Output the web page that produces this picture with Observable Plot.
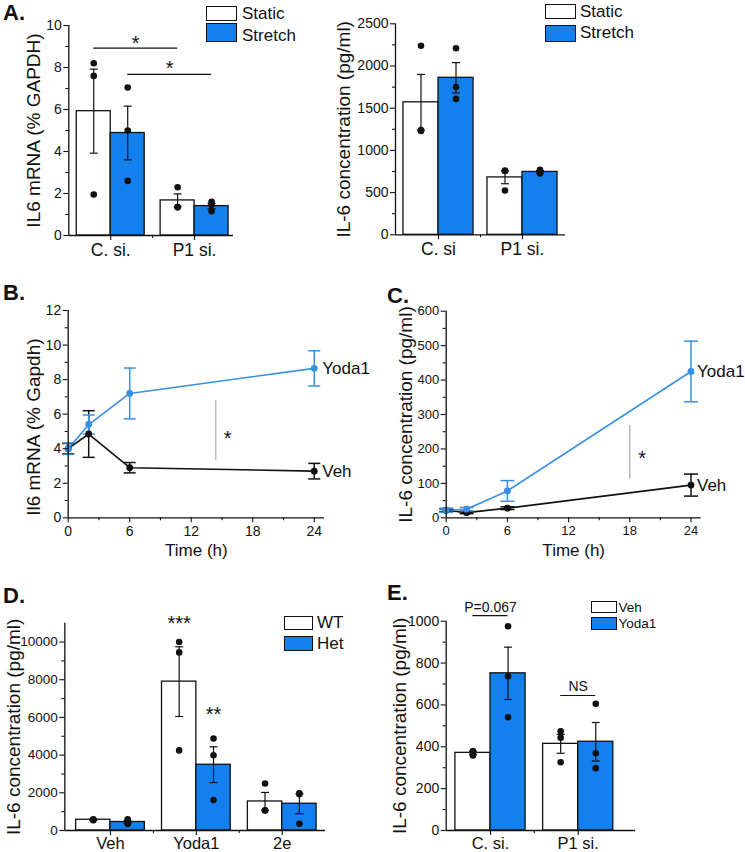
<!DOCTYPE html>
<html><head><meta charset="utf-8">
<script src="https://cdn.jsdelivr.net/npm/d3@7"></script>
<script src="https://cdn.jsdelivr.net/npm/@observablehq/plot@0.6"></script>
<style>
html,body{margin:0;padding:0;background:#fff;}
#fig{position:relative;width:745px;height:852px;overflow:hidden;font-family:'Liberation Sans',Arial,Helvetica,sans-serif;color:#111;background:#fff;}
#fig svg{position:absolute;overflow:visible;}
.lbl{position:absolute;white-space:nowrap;line-height:1;}
.box{position:absolute;box-sizing:border-box;border:1.3px solid #111;}
</style></head><body><div id="fig"></div>
<script>
// ---------------- DATA ----------------
// Panel A (left): IL6 mRNA
const aCats = ["C. si.", "P1 si."];
const aGroups = ["Static", "Stretch"];
const aMrnaStatic = [5.92, 1.67];
const aMrnaStaticSem = [2.0, 0.31];
const aMrnaStretch = [4.88, 1.40];
const aMrnaStretchSem = [1.28, 0.13];
const aMrnaStaticPts = [[8.2, 7.6, 1.95], [2.3, 1.35, 1.35]];
const aMrnaStretchPts = [[7.05, 5.0, 2.6], [1.6, 1.45, 1.15]];
const aMrnaTicks = [0, 2, 4, 6, 8, 10];
const aMrnaMinor = [1, 3, 5, 7, 9];

// Panel A (right): IL-6 concentration
const aProtCats = ["C. si", "P1 si."];
const aProtStatic = [1570, 680];
const aProtStaticSem = [330, 75];
const aProtStretch = [1860, 745];
const aProtStretchSem = [180, 15];
const aProtStaticPts = [[2240, 1240, 1230], [760, 755, 525]];
const aProtStretchPts = [[2210, 1750, 1610], [770, 745, 725]];
const aProtTicks = [0, 500, 1000, 1500, 2000, 2500];
const aProtMinor = [250, 750, 1250, 1750, 2250];

// Panel B: Il6 mRNA time course
const bTimes = [0, 2, 6, 24];
const bYoda = [4.0, 5.4, 7.2, 8.65];
const bYodaSem = [0.33, 0.55, 1.47, 1.02];
const bVeh = [4.0, 4.85, 2.9, 2.7];
const bVehSem = [0.3, 1.35, 0.3, 0.45];
const bTicks = [0, 2, 4, 6, 8, 10, 12];
const bMinor = [1, 3, 5, 7, 9, 11];

// Panel C: IL-6 concentration time course
const cTimes = [0, 2, 6, 24];
const cYoda = [22, 25, 78, 425];
const cYodaSem = [6, 5, 30, 88];
const cVeh = [22, 15, 28, 95];
const cVehSem = [4, 3, 4, 32];
const cTicks = [0, 100, 200, 300, 400, 500, 600];
const cMinor = [50, 150, 250, 350, 450, 550];
const timeTicks = [0, 6, 12, 18, 24];
const timeMinor = [3, 9, 15, 21];

// Panel D
const dCats = ["Veh", "Yoda1", "2e"];
const dGroups = ["WT", "Het"];
const dWT = [570, 7900, 1540];
const dWTSem = [40, 1850, 480];
const dHet = [450, 3490, 1420];
const dHetSem = [70, 950, 530];
const dWTPts = [[600, 560, 550], [10000, 9450, 4250], [2490, 1060, 1070]];
const dHetPts = [[600, 400, 350], [4880, 3990, 1620], [1975, 1930, 355]];
const dTicks = [0, 2000, 4000, 6000, 8000, 10000];
const dMinor = [1000, 3000, 5000, 7000, 9000];

// Panel E
const eCats = ["C. si.", "P1 si."];
const eGroups = ["Veh", "Yoda1"];
const eVeh = [371, 414];
const eVehSem = [8, 45];
const eYoda = [751, 424];
const eYodaSem = [125, 92];
const eVehPts = [[380, 365, 358], [474, 443, 326]];
const eYodaPts = [[976, 737, 541], [605, 369, 298]];
const eTicks = [0, 200, 400, 600, 800, 1000];
const eMinor = [100, 300, 500, 700, 900];

// annotations
const aBrackets = [{c1: 0, g1: 0, c2: 1, g2: 0, y: 8.92, label: "*", ly: 9.38},
                   {c1: 0, g1: 1, c2: 1, g2: 1, y: 7.67, label: "*", ly: 8.19}];
const dStars = [{c: 1, g: 0, y: 11241, label: "***"}, {c: 1, g: 1, y: 6393, label: "**"}];
const eBrackets = [{c1: 0, g1: 0, c2: 0, g2: 1, y: 1027, label: "P=0.067", ly: 1067},
                   {c1: 1, g1: 0, c2: 1, g2: 1, y: 645, label: "NS", ly: 688}];
const bSig = {t: 14.4, y1: 3.32, y2: 6.79, starT: 15.55, starY: 4.88};
const cSig = {t: 18, y1: 113, y2: 268, starT: 19.2, starY: 186};

// ---------------- STYLE ----------------
const INK = "#111";
const BLUE = "#1380ee";
const LINEBLUE = "#3690e3";
const FONT = "'Liberation Sans', Arial, Helvetica, sans-serif";
const fig = document.getElementById("fig");
const plain = d3.format("d");

const capSymbol = hw => ({draw(ctx) { ctx.moveTo(-hw, 0); ctx.lineTo(hw, 0); }});

function place(svg, box) {
  svg.style.left = box.left + "px";
  svg.style.top = box.top + "px";
  svg.style.overflow = "visible";
  fig.appendChild(svg);
}

function baseOptions(box, frame, xDomain, yDomain) {
  return {
    width: box.width, height: box.height,
    marginLeft: frame.x0 - box.left, marginRight: box.left + box.width - frame.x1,
    marginTop: frame.y0 - box.top, marginBottom: box.top + box.height - frame.y1,
    x: {domain: xDomain, label: null}, y: {domain: yDomain, label: null},
    color: {type: "identity"},
    style: {fontFamily: FONT, fontSize: "13px", color: INK, background: "none", overflow: "visible", maxWidth: "none"}
  };
}

function yAxes(p) {
  return [
    Plot.axisY({ticks: p.yTicks, tickFormat: plain, tickSize: 5, tickPadding: 2, fontSize: p.tickFont, label: null, strokeWidth: 1.1}),
    Plot.axisY({ticks: p.yMinor, tickSize: 3, tickFormat: () => "", label: null, strokeWidth: 1.1}),
    Plot.text([p.title], {text: d => d, frameAnchor: "left", textAnchor: "middle", lineAnchor: "middle", rotate: -90, dx: p.tdx, dy: p.tdy || 0, fontSize: 19, fill: INK})
  ];
}

function barPanel(p) {
  const rows = [], pts = [];
  p.cats.forEach((c, ci) => p.groups.forEach((g, gi) => {
    rows.push({ci, gi, mean: p.means[gi][ci], sem: p.sems[gi][ci], fill: p.fills[gi]});
    p.pts[gi][ci].forEach(v => pts.push({ci, gi, v}));
  }));
  const W = p.barW;
  const xc = d => d.ci + (d.gi - 0.5) * W;
  const xAt = (c, g) => c + (g - 0.5) * W;
  const cap = capSymbol(4);
  const minorX = d3.range(p.cats.length - 1).map(i => i + 0.5);
  const marks = [
    Plot.rect(rows, {x1: d => d.ci + (d.gi - 1) * W, x2: d => d.ci + d.gi * W, y1: 0, y2: "mean", fill: "fill", stroke: INK, strokeWidth: 1.3}),
    Plot.ruleX(rows, {x: xc, y1: d => d.mean - d.sem, y2: d => d.mean + d.sem, stroke: INK, strokeWidth: 1.2}),
    Plot.dot(rows, {x: xc, y: d => d.mean + d.sem, symbol: cap, stroke: INK, fill: "none", strokeWidth: 1.2}),
    Plot.dot(rows, {x: xc, y: d => d.mean - d.sem, symbol: cap, stroke: INK, fill: "none", strokeWidth: 1.2}),
    Plot.dot(pts, {x: xc, y: "v", r: 3.3, fill: INK, stroke: "none"}),
    Plot.ruleX([p.xDomain[0]], {stroke: INK, strokeWidth: 1.3}),
    Plot.ruleY([0], {stroke: INK, strokeWidth: 1.3}),
    ...yAxes(p),
    Plot.axisX({ticks: p.cats.map((_, i) => i), tickFormat: i => p.cats[i], tickSize: 5, tickPadding: p.catPad, fontSize: p.catFont, label: null, strokeWidth: 1.1}),
    Plot.axisX({ticks: minorX, tickSize: 3, tickFormat: () => "", label: null, strokeWidth: 1.1})
  ];
  (p.brackets || []).forEach(b => {
    const x1 = xAt(b.c1, b.g1), x2 = xAt(b.c2, b.g2);
    marks.push(Plot.ruleY([b.y], {x1, x2, stroke: INK, strokeWidth: 1.2}));
    const star = b.label.startsWith("*");
    marks.push(Plot.text([b.label], {text: d => d, x: (x1 + x2) / 2, y: b.ly, fontSize: star ? 20 : 14, dy: star ? 5 : 0, fill: INK}));
  });
  (p.stars || []).forEach(s => {
    marks.push(Plot.text([s.label], {text: d => d, x: xAt(s.c, s.g), y: s.y, fontSize: 20, dy: 5, fill: INK}));
  });
  const svg = Plot.plot({...baseOptions(p.box, p.frame, p.xDomain, p.yDomain), marks});
  place(svg, p.box);
}

function linePanel(p) {
  const rows = [];
  p.series.forEach(s => p.times.forEach((t, i) => rows.push({name: s.name, color: s.color, t, v: s.mean[i], sem: s.sem[i]})));
  const tMax = d3.max(p.times);
  const last = rows.filter(d => d.t === tMax);
  const cap = capSymbol(p.capHW);
  const marks = [
    Plot.line(rows, {x: "t", y: "v", z: "name", stroke: "color", strokeWidth: 1.6}),
    Plot.ruleX(rows, {x: "t", y1: d => d.v - d.sem, y2: d => d.v + d.sem, stroke: "color", strokeWidth: 1.5}),
    Plot.dot(rows, {x: "t", y: d => d.v + d.sem, symbol: cap, stroke: "color", fill: "none", strokeWidth: 1.5}),
    Plot.dot(rows, {x: "t", y: d => d.v - d.sem, symbol: cap, stroke: "color", fill: "none", strokeWidth: 1.5}),
    Plot.dot(rows, {x: "t", y: "v", r: 3.4, fill: "color", stroke: "none"}),
    Plot.text(last, {x: "t", y: "v", text: "name", dx: p.labelDx, textAnchor: "start", fontSize: 17, fill: INK}),
    Plot.ruleX([p.sig.t], {y1: p.sig.y1, y2: p.sig.y2, stroke: "#9a9a9a", strokeWidth: 1}),
    Plot.text(["*"], {text: d => d, x: p.sig.starT, y: p.sig.starY, fontSize: 20, dy: 5, fill: INK}),
    Plot.ruleX([0], {stroke: INK, strokeWidth: 1.3}),
    Plot.ruleY([0], {stroke: INK, strokeWidth: 1.3}),
    ...yAxes(p),
    Plot.axisX({ticks: timeTicks, tickFormat: plain, tickSize: 5, tickPadding: 3, fontSize: p.tickFont, label: null, strokeWidth: 1.1}),
    Plot.axisX({ticks: timeMinor, tickSize: 3, tickFormat: () => "", label: null, strokeWidth: 1.1}),
    Plot.text(["Time (h)"], {text: d => d, frameAnchor: "bottom", dy: 37.7, fontSize: 17, fill: INK})
  ];
  const svg = Plot.plot({...baseOptions(p.box, p.frame, [0, 25], p.yDomain), marks});
  place(svg, p.box);
}

// ---------------- PANELS ----------------
barPanel({
  cats: aCats, groups: aGroups, fills: ["#fff", BLUE],
  means: [aMrnaStatic, aMrnaStretch], sems: [aMrnaStaticSem, aMrnaStretchSem], pts: [aMrnaStaticPts, aMrnaStretchPts],
  barW: 0.405, xDomain: [-0.5, 1.464], yDomain: [0, 10], yTicks: aMrnaTicks, yMinor: aMrnaMinor,
  tickFont: 14, catFont: 17.5, catPad: 3,
  title: "IL6 mRNA (% GAPDH)", tdx: -35.3,
  box: {left: 0, top: 0, width: 372, height: 265}, frame: {x0: 68.3, x1: 233, y0: 25, y1: 235},
  brackets: aBrackets
});
barPanel({
  cats: aProtCats, groups: aGroups, fills: ["#fff", BLUE],
  means: [aProtStatic, aProtStretch], sems: [aProtStaticSem, aProtStretchSem], pts: [aProtStaticPts, aProtStretchPts],
  barW: 0.417, xDomain: [-0.512, 1.512], yDomain: [0, 2500], yTicks: aProtTicks, yMinor: aProtMinor,
  tickFont: 14, catFont: 17.5, catPad: 3,
  title: "IL-6 concentration (pg/ml)", tdx: -52,
  box: {left: 300, top: 0, width: 445, height: 265}, frame: {x0: 395, x1: 565, y0: 23.3, y1: 234.3}
});
linePanel({
  times: bTimes, series: [{name: "Veh", color: INK, mean: bVeh, sem: bVehSem}, {name: "Yoda1", color: LINEBLUE, mean: bYoda, sem: bYodaSem}],
  yDomain: [0, 12], yTicks: bTicks, yMinor: bMinor, capHW: 6, sig: bSig, labelDx: 8, tickFont: 14,
  title: "Il6 mRNA (% Gapdh)", tdx: -34.7, tdy: 13,
  box: {left: 0, top: 280, width: 372, height: 300}, frame: {x0: 67.7, x1: 324, y0: 310, y1: 517.3}
});
linePanel({
  times: cTimes, series: [{name: "Veh", color: INK, mean: cVeh, sem: cVehSem}, {name: "Yoda1", color: LINEBLUE, mean: cYoda, sem: cYodaSem}],
  yDomain: [0, 600], yTicks: cTicks, yMinor: cMinor, capHW: 7, sig: cSig, labelDx: 6, tickFont: 13,
  title: "IL-6 concentration (pg/ml)", tdx: -40,
  box: {left: 300, top: 280, width: 445, height: 300}, frame: {x0: 445.7, x1: 700.7, y0: 310.7, y1: 517.3}
});
barPanel({
  cats: dCats, groups: dGroups, fills: ["#fff", BLUE],
  means: [dWT, dHet], sems: [dWTSem, dHetSem], pts: [dWTPts, dHetPts],
  barW: 0.4, xDomain: [-0.532, 2.504], yDomain: [0, 11000], yTicks: dTicks, yMinor: dMinor,
  tickFont: 13.5, catFont: 16.5, catPad: 1.5,
  title: "IL-6 concentration (pg/ml)", tdx: -51.3,
  box: {left: 0, top: 580, width: 372, height: 272}, frame: {x0: 64.3, x1: 325, y0: 622.7, y1: 830},
  stars: dStars
});
barPanel({
  cats: eCats, groups: eGroups, fills: ["#fff", BLUE],
  means: [eVeh, eYoda], sems: [eVehSem, eYodaSem], pts: [eVehPts, eYodaPts],
  barW: 0.4, xDomain: [-0.505, 1.653], yDomain: [0, 1000], yTicks: eTicks, yMinor: eMinor,
  tickFont: 14, catFont: 16.5, catPad: 1.5,
  title: "IL-6 concentration (pg/ml)", tdx: -46.7,
  box: {left: 300, top: 580, width: 445, height: 272}, frame: {x0: 445.7, x1: 635, y0: 620.7, y1: 830},
  brackets: eBrackets
});

// ---------------- LEGENDS & PANEL LETTERS ----------------
function addText(txt, x, yc, size, bold) {
  const d = document.createElement("div");
  d.className = "lbl"; d.textContent = txt;
  d.style.left = x + "px"; d.style.top = (yc - 0.488 * size) + "px";
  d.style.fontSize = size + "px";
  if (bold) d.style.fontWeight = "bold";
  fig.appendChild(d);
}
function addBox(x, y, w, h, fill) {
  const d = document.createElement("div");
  d.className = "box";
  Object.assign(d.style, {left: x + "px", top: y + "px", width: w + "px", height: h + "px", background: fill});
  fig.appendChild(d);
}
const legendEntries = [
  {x: 206, y: 5.5, w: 31, h: 15.5, fill: "#fff", label: aGroups[0], tx: 242, ty: 12.8, size: 17},
  {x: 206, y: 22.7, w: 31, h: 19.5, fill: BLUE, label: aGroups[1], tx: 242, ty: 35, size: 17},
  {x: 545, y: 4, w: 31, h: 15.3, fill: "#fff", label: aGroups[0], tx: 580, ty: 11.2, size: 17},
  {x: 545, y: 25, w: 31, h: 16.7, fill: BLUE, label: aGroups[1], tx: 580, ty: 32.7, size: 17},
  {x: 284, y: 616, w: 29, h: 14, fill: "#fff", label: dGroups[0], tx: 317, ty: 622.3, size: 17},
  {x: 284, y: 636, w: 29, h: 15, fill: BLUE, label: dGroups[1], tx: 317, ty: 643, size: 17},
  {x: 590.7, y: 600.7, w: 26.6, h: 12.6, fill: "#fff", label: eGroups[0], tx: 618.5, ty: 607.2, size: 13.5},
  {x: 590.7, y: 617.3, w: 26.6, h: 12.7, fill: BLUE, label: eGroups[1], tx: 618.5, ty: 623.8, size: 13.5}
];
legendEntries.forEach(e => { addBox(e.x, e.y, e.w, e.h, e.fill); addText(e.label, e.tx, e.ty, e.size); });

const panelLetters = [["A.", 3, 12.5], ["B.", 3, 292.5], ["C.", 387, 295.5], ["D.", 3, 595.5], ["E.", 387, 592.5]];
panelLetters.forEach(([t, x, y]) => addText(t, x, y, 22, true));
</script></body></html>
